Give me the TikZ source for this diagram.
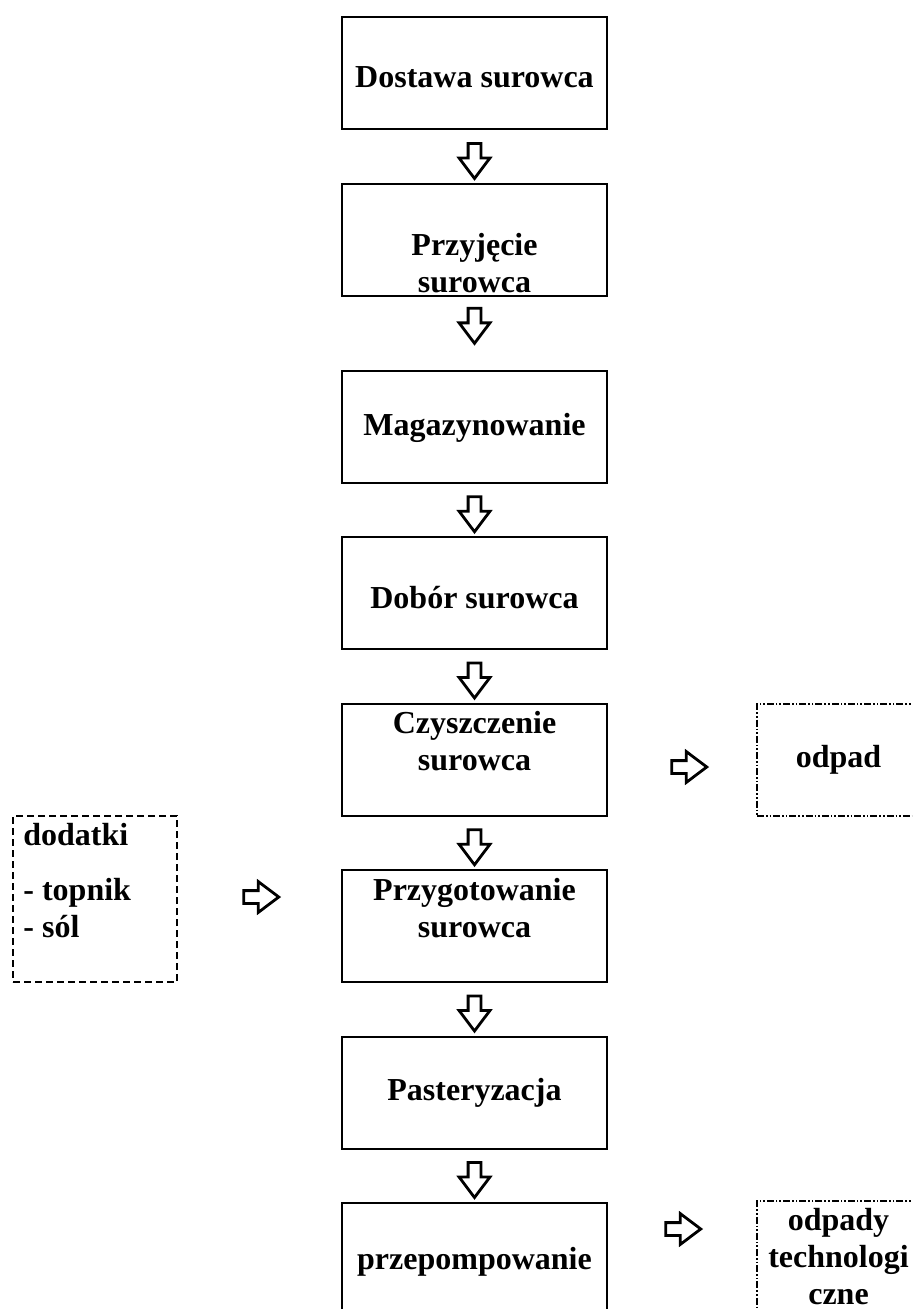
\documentclass[tikz,border=0pt]{standalone}
\usepackage{fontspec}
\setmainfont{Liberation Serif}
\usetikzlibrary{shapes.arrows,calc}

\tikzset{
  stepbox/.style={draw, line width=1pt, minimum width=132.5pt, minimum height=56pt, inner sep=0pt},
  steptxt/.style={font=\fontsize{16}{18.5}\selectfont\bfseries, align=center, inner sep=0pt},
  wastebox/.style={steptxt, draw, line width=0.75pt,
    dash pattern=on 3.5pt off 1pt on 0.8pt off 1pt on 0.8pt off 1pt,
    minimum width=81.5pt, minimum height=56pt},
  addbox/.style={draw, line width=1.2pt, dash pattern=on 3.3pt off 2.2pt,
    minimum width=82pt, minimum height=83pt, inner sep=0pt},
  flow/.style={single arrow, draw, line width=1.4pt, inner sep=2.5pt,
    single arrow head extend=4.5pt, single arrow tip angle=74, minimum height=17.5pt},
  flowdown/.style={flow, shape border rotate=270},
}

\begin{document}
\begin{tikzpicture}[x=0.5pt,y=-0.5pt]
\useasboundingbox (0,0) rectangle (912,1309);
\clip (0,0) rectangle (912,1309);

% main line
\node[stepbox] (b1) at (474.5,73) {};
\node[stepbox] (b2) at (474.5,240.5) {};
\node[stepbox] (b3) at (474.5,427.5) {};
\node[stepbox] (b4) at (474.5,592.5) {};
\node[stepbox] (b5) at (474.5,760) {};
\node[stepbox] (b6) at (474.5,926) {};
\node[stepbox] (b7) at (474.5,1092.5) {};
\node[stepbox] (b8) at (474.5,1259) {};

\node[steptxt] (t1) at (474.5,77) {Dostawa surowca};
\node[steptxt] (t2) at (474.5,263.5) {Przyjęcie\\surowca};
\node[steptxt] (t3) at (474.5,428) {Magazynowanie};
\node[steptxt] (t4) at (474.5,598) {Dobór surowca};
\node[steptxt] (t5) at (474.5,741.5) {Czyszczenie\\surowca};
\node[steptxt] (t6) at (474.5,908) {Przygotowanie\\surowca};
\node[steptxt] (t7) at (474.5,1093) {Pasteryzacja};
\node[steptxt] (t8) at (474.5,1262) {przepompowanie};

% arrows between steps
\node[flowdown] (a1) at ($(b1.south)!0.5!(b2.north)$) {};
\node[flowdown] (a2) at ($(b2.south)!0.33!(b3.north)$) {};
\node[flowdown] (a3) at ($(b3.south)!0.5!(b4.north)$) {};
\node[flowdown] (a4) at ($(b4.south)!0.5!(b5.north)$) {};
\node[flowdown] (a5) at ($(b5.south)!0.5!(b6.north)$) {};
\node[flowdown] (a6) at ($(b6.south)!0.5!(b7.north)$) {};
\node[flowdown] (a7) at ($(b7.south)!0.5!(b8.north)$) {};

% side boxes
\node[wastebox] (w1) at (838.5,760) {odpad};
\node[wastebox] (w2) at (838.5,1257) {odpady\\technologi\\czne};
\node[addbox] (d1) at (95,899) {};
\node[steptxt, align=left, anchor=north west] (dt) at (23,823) {dodatki\\[9pt]- topnik\\- sól};

\node[flow] (s1) at (685,767) {};
\node[flow] (s2) at (257,897) {};
\node[flow] (s3) at (679,1229) {};
\end{tikzpicture}
\end{document}
